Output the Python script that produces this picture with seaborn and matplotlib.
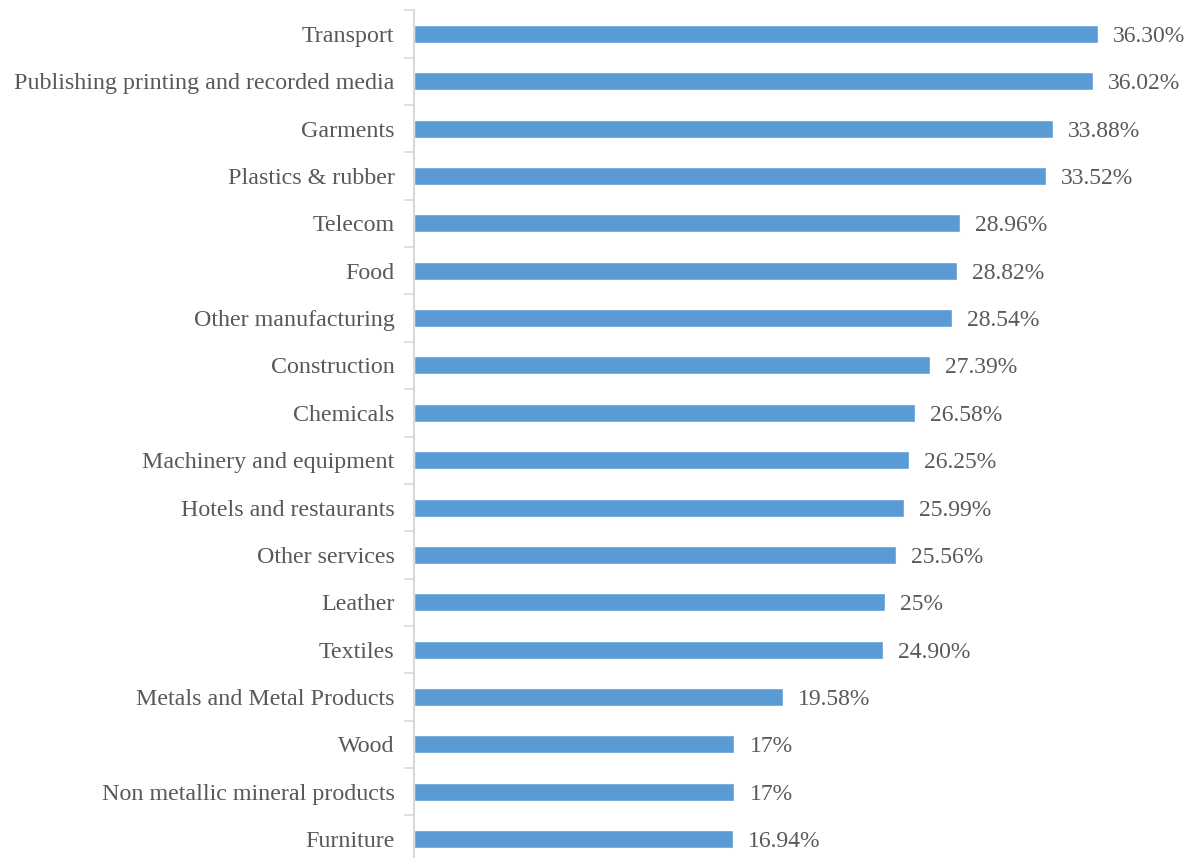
import matplotlib.pyplot as plt
import numpy as np
import pandas as pd
import seaborn as sns

sectors = [
    "Transport", "Publishing printing and recorded media", "Garments",
    "Plastics & rubber", "Telecom", "Food", "Other manufacturing",
    "Construction", "Chemicals", "Machinery and equipment",
    "Hotels and restaurants", "Other services", "Leather", "Textiles",
    "Metals and Metal Products", "Wood", "Non metallic mineral products",
    "Furniture",
]
shares = [36.30, 36.02, 33.88, 33.52, 28.96, 28.82, 28.54, 27.39, 26.58,
          26.25, 25.99, 25.56, 25.0, 24.90, 19.58, 17.0, 17.0, 16.94]
value_labels = ["36.30%", "36.02%", "33.88%", "33.52%", "28.96%", "28.82%",
                "28.54%", "27.39%", "26.58%", "26.25%", "25.99%", "25.56%",
                "25%", "24.90%", "19.58%", "17%", "17%", "16.94%"]

df = pd.DataFrame({"sector": sectors, "share": shares})

sns.set_theme(style="white")
plt.rcParams["font.family"] = ["Liberation Serif", "DejaVu Serif"]

text_color = "#595959"
fig = plt.figure(figsize=(11.91, 8.58), dpi=100)
# axes spans from the top boundary to just below the image bottom
ax = fig.add_axes([414 / 1191, 1 - 862.7 / 858, (1168 - 414) / 1191, (862.7 - 10.3) / 858])

sns.barplot(data=df, x="share", y="sector", color="#5B9BD5", saturation=1,
            width=0.38, ax=ax)

for i, (v, lab) in enumerate(zip(shares, value_labels)):
    ax.text(v + 0.8, i, lab, va="center_baseline", ha="left", fontsize=17,
            color=text_color)

ax.set_xlim(0, 40)
ax.set_ylim(len(sectors) - 0.5, -0.5)
ax.set_xlabel("")
ax.set_ylabel("")
ax.set_xticks([])

for side in ["top", "right", "bottom"]:
    ax.spines[side].set_visible(False)
ax.spines["left"].set_color("#D9D9D9")
ax.spines["left"].set_linewidth(1.5)

ax.set_yticks(range(len(sectors)))
ax.set_yticklabels(sectors, fontsize=17.3, color=text_color,
                   verticalalignment="center_baseline")
ax.tick_params(axis="y", which="major", length=0, pad=14)
ax.set_yticks(np.arange(-0.5, len(sectors), 1), minor=True)
ax.tick_params(axis="y", which="minor", length=7, width=1.2, color="#D9D9D9", left=True)

fig.savefig("out.png", dpi=100)
